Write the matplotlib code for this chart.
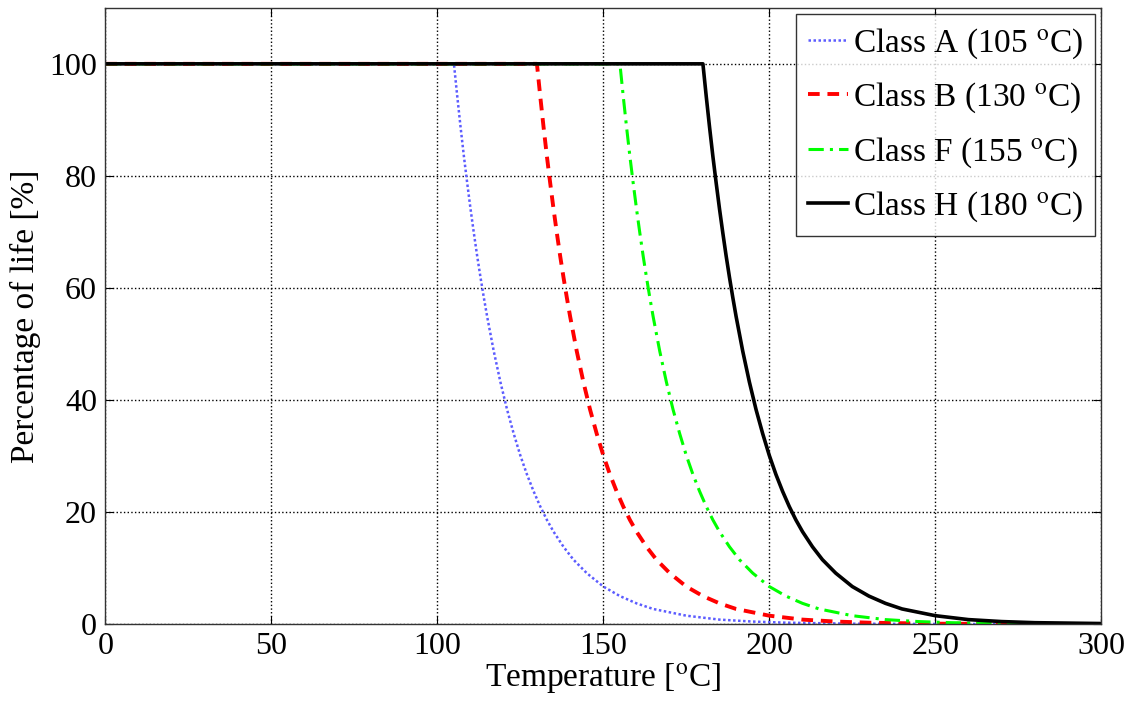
import matplotlib
matplotlib.use('Agg')
import matplotlib.pyplot as plt

plt.rcParams['font.family'] = ['Liberation Serif', 'DejaVu Serif']
plt.rcParams['mathtext.fontset'] = 'stix'

# values (temperature in degC, percentage of life)
temp_a = [0, 105, 106, 107, 108, 109, 110, 111, 112, 113, 114, 115, 117, 119, 121, 123, 125, 127,
          129, 131, 133, 135, 138, 141, 145, 150, 155, 160, 165, 175, 185, 195, 205, 225, 255, 300]
life_a = [100, 100, 94.2, 88.7, 83.5, 78.7, 74.1, 69.8, 65.7, 61.9, 58.3, 54.9, 48.7, 43.2, 38.3, 34.0,
          30.1, 26.7, 23.7, 21.0, 18.6, 16.5, 13.8, 11.5, 9.1, 6.7, 5.0, 3.7, 2.7, 1.5, 0.8, 0.45,
          0.25, 0.07, 0.01, 0.0]

temp_b = [0, 130, 131, 132, 133, 134, 135, 136, 137, 138, 139, 140, 142, 144, 146, 148, 150, 152,
          154, 156, 158, 160, 163, 166, 170, 175, 180, 185, 190, 200, 210, 220, 230, 250, 280, 300]
life_b = [100, 100, 94.2, 88.7, 83.5, 78.7, 74.1, 69.8, 65.7, 61.9, 58.3, 54.9, 48.7, 43.2, 38.3, 34.0,
          30.1, 26.7, 23.7, 21.0, 18.6, 16.5, 13.8, 11.5, 9.1, 6.7, 5.0, 3.7, 2.7, 1.5, 0.8, 0.45,
          0.25, 0.07, 0.01, 0.0]

temp_f = [0, 155, 156, 157, 158, 159, 160, 161, 162, 163, 164, 165, 167, 169, 171, 173, 175, 177,
          179, 181, 183, 185, 188, 191, 195, 200, 205, 210, 215, 225, 235, 245, 255, 275, 300]
life_f = [100, 100, 94.2, 88.7, 83.5, 78.7, 74.1, 69.8, 65.7, 61.9, 58.3, 54.9, 48.7, 43.2, 38.3, 34.0,
          30.1, 26.7, 23.7, 21.0, 18.6, 16.5, 13.8, 11.5, 9.1, 6.7, 5.0, 3.7, 2.7, 1.5, 0.8, 0.45,
          0.25, 0.07, 0.02]

temp_h = [0, 180, 181, 182, 183, 184, 185, 186, 187, 188, 189, 190, 192, 194, 196, 198, 200, 202,
          204, 206, 208, 210, 213, 216, 220, 225, 230, 235, 240, 250, 260, 270, 280, 300]
life_h = [100, 100, 94.2, 88.7, 83.5, 78.7, 74.1, 69.8, 65.7, 61.9, 58.3, 54.9, 48.7, 43.2, 38.3, 34.0,
          30.1, 26.7, 23.7, 21.0, 18.6, 16.5, 13.8, 11.5, 9.1, 6.7, 5.0, 3.7, 2.7, 1.5, 0.8, 0.45,
          0.25, 0.1]

labels = [r'Class A (105 $^{\rm o}$C)', r'Class B (130 $^{\rm o}$C)',
          r'Class F (155 $^{\rm o}$C)', r'Class H (180 $^{\rm o}$C)']

fig = plt.figure(figsize=(11.33, 7.10), dpi=100)
ax = fig.add_axes([0.093, 0.121, 0.879, 0.868])

ax.plot(temp_a, life_a, color='#5c5cff', linestyle=(0, (1, 1)), linewidth=1.8, label=labels[0])
ax.plot(temp_b, life_b, color='#ff0000', linestyle=(0, (3, 2)), linewidth=2.8, label=labels[1])
ax.plot(temp_f, life_f, color='#00ff00', linestyle=(0, (5, 2, 1, 2)), linewidth=2.2, label=labels[2])
ax.plot(temp_h, life_h, color='black', linestyle='-', linewidth=2.6, label=labels[3])

ax.set_xlim(0, 300)
ax.set_ylim(0, 110)
ax.set_xticks([0, 50, 100, 150, 200, 250, 300])
ax.set_yticks([0, 20, 40, 60, 80, 100])
ax.grid(True, color='black', linestyle=':', linewidth=1.0)
ax.tick_params(direction='in', top=True, right=True, labelsize=23, length=6, pad=6)
for s in ax.spines.values():
    s.set_linewidth(1.0)
    s.set_color('#333333')

ax.set_xlabel(r'Temperature [$^{\rm o}$C]', fontsize=24, labelpad=0)
ax.set_ylabel('Percentage of life [%]', fontsize=24, labelpad=6)

leg = ax.legend(loc='upper right', fontsize=24, frameon=True, fancybox=False,
                edgecolor='black', handlelength=1.2, handletextpad=0.15,
                borderaxespad=0.2, labelspacing=0.6, borderpad=0.35)
leg.get_frame().set_linewidth(1.0)

fig.savefig('out.png', dpi=100)
